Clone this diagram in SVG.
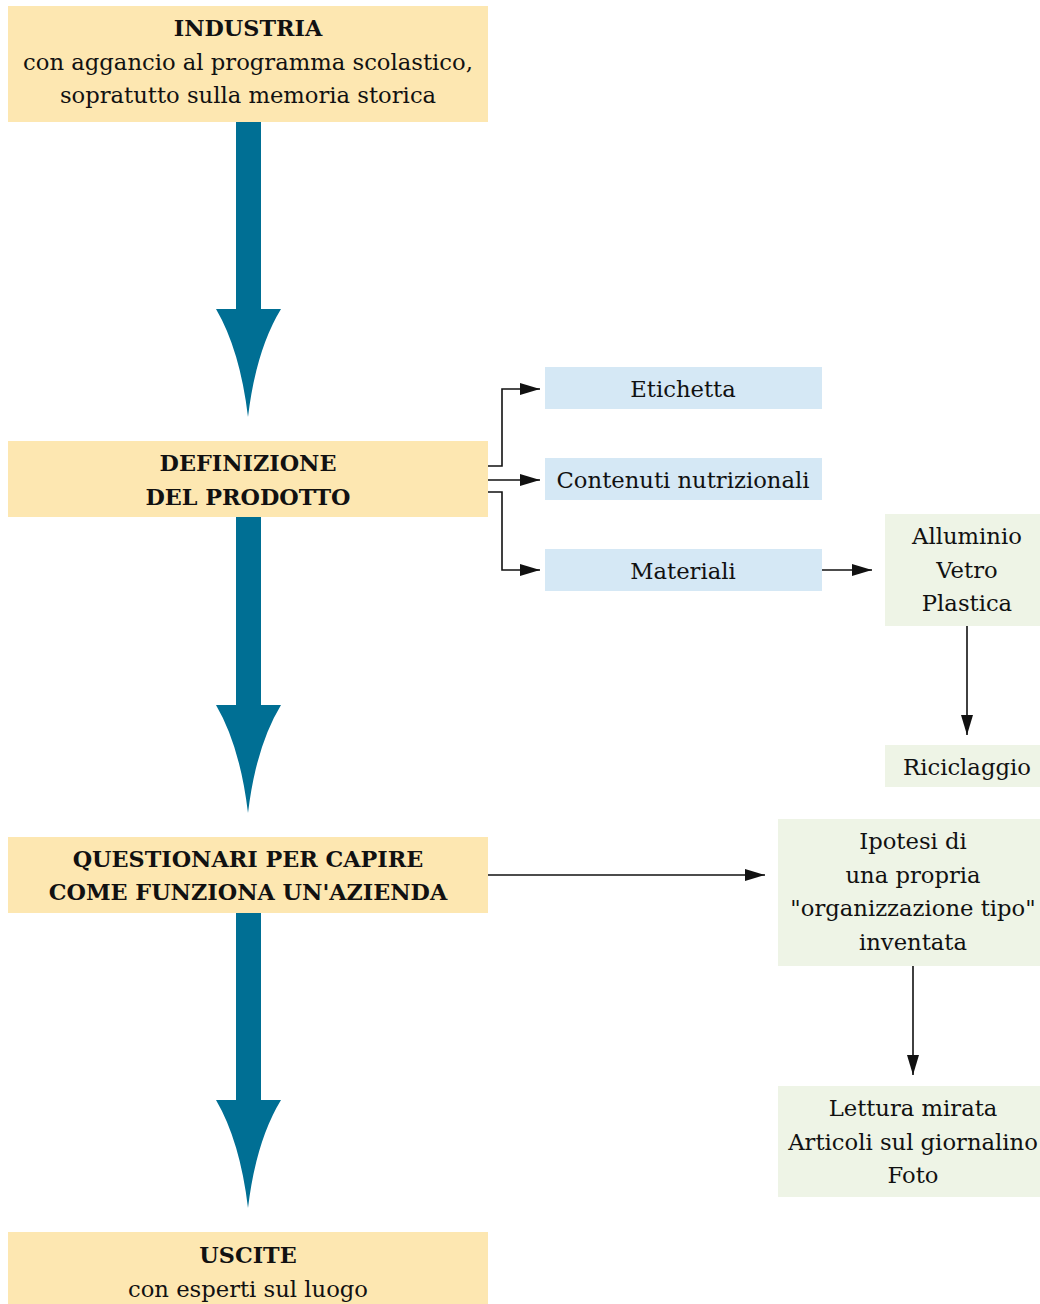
<svg xmlns="http://www.w3.org/2000/svg" width="1040" height="1304" viewBox="0 0 1040 1304">
<defs>
<style>
.y{fill:#FDE7B1}
.b{fill:#D5E8F5}
.g{fill:#EEF4E6}
text{font-family:"DejaVu Serif","Liberation Serif",serif;font-size:22.7px;fill:#111;text-anchor:middle}
.h{font-weight:bold;font-size:22.3px}
.big{fill:#006F94}
.ln{fill:none;stroke:#111;stroke-width:1.6}
</style>
<marker id="ah" markerWidth="20" markerHeight="12" refX="20" refY="6" orient="auto" markerUnits="userSpaceOnUse">
<path d="M0,0 L20,6 L0,12 Z" fill="#111"/>
</marker>
</defs>
<rect width="1040" height="1304" fill="#fff"/>

<g id="industria">
<rect class="y" x="8" y="6" width="480" height="116"/>
<text class="h" x="248" y="36">INDUSTRIA</text>
<text x="248" y="70">con aggancio al programma scolastico,</text>
<text x="248" y="103">sopratutto sulla memoria storica</text>
</g>
<g id="definizione">
<rect class="y" x="8" y="441" width="480" height="76"/>
<text class="h" x="248" y="471">DEFINIZIONE</text>
<text class="h" x="248" y="505">DEL PRODOTTO</text>
</g>
<g id="questionari">
<rect class="y" x="8" y="837" width="480" height="76"/>
<text class="h" x="248" y="867">QUESTIONARI PER CAPIRE</text>
<text class="h" x="248" y="900">COME FUNZIONA UN'AZIENDA</text>
</g>
<g id="uscite">
<rect class="y" x="8" y="1232" width="480" height="72"/>
<text class="h" x="248" y="1263">USCITE</text>
<text x="248" y="1297">con esperti sul luogo</text>
</g>
<g id="etichetta">
<rect class="b" x="545" y="367" width="277" height="42"/>
<text x="683" y="397">Etichetta</text>
</g>
<g id="contenuti">
<rect class="b" x="545" y="458" width="277" height="42"/>
<text x="683" y="488">Contenuti nutrizionali</text>
</g>
<g id="materiali">
<rect class="b" x="545" y="549" width="277" height="42"/>
<text x="683" y="579">Materiali</text>
</g>
<g id="alluminio">
<rect class="g" x="885" y="514" width="155" height="112"/>
<text x="967" y="544">Alluminio</text>
<text x="967" y="578">Vetro</text>
<text x="967" y="611">Plastica</text>
</g>
<g id="riciclaggio">
<rect class="g" x="885" y="745" width="155" height="42"/>
<text x="967" y="775">Riciclaggio</text>
</g>
<g id="ipotesi">
<rect class="g" x="778" y="819" width="262" height="147"/>
<text x="913" y="849">Ipotesi di</text>
<text x="913" y="883">una propria</text>
<text x="913" y="916">"organizzazione tipo"</text>
<text x="913" y="950">inventata</text>
</g>
<g id="lettura">
<rect class="g" x="778" y="1086" width="262" height="111"/>
<text x="913" y="1116">Lettura mirata</text>
<text x="913" y="1150">Articoli sul giornalino</text>
<text x="913" y="1183">Foto</text>
</g>

<g id="connectors">
<g class="big">
<rect x="236" y="122" width="25" height="188"/>
<path d="M216,309 L281,309 Q256,350 248,417 Q240,350 216,309 Z"/>
<rect x="236" y="517" width="25" height="189"/>
<path d="M216,705 L281,705 Q256,746 248,813 Q240,746 216,705 Z"/>
<rect x="236" y="913" width="25" height="188"/>
<path d="M216,1100 L281,1100 Q256,1141 248,1208 Q240,1141 216,1100 Z"/>
</g>
<path class="ln" d="M488,466 H502 V389 H540" marker-end="url(#ah)"/>
<path class="ln" d="M488,480 H540" marker-end="url(#ah)"/>
<path class="ln" d="M488,492 H502 V570 H540" marker-end="url(#ah)"/>
<path class="ln" d="M822,570 H872" marker-end="url(#ah)"/>
<path class="ln" d="M967,626 V735" marker-end="url(#ah)"/>
<path class="ln" d="M488,875 H765" marker-end="url(#ah)"/>
<path class="ln" d="M913,966 V1075" marker-end="url(#ah)"/>
</g>
</svg>
